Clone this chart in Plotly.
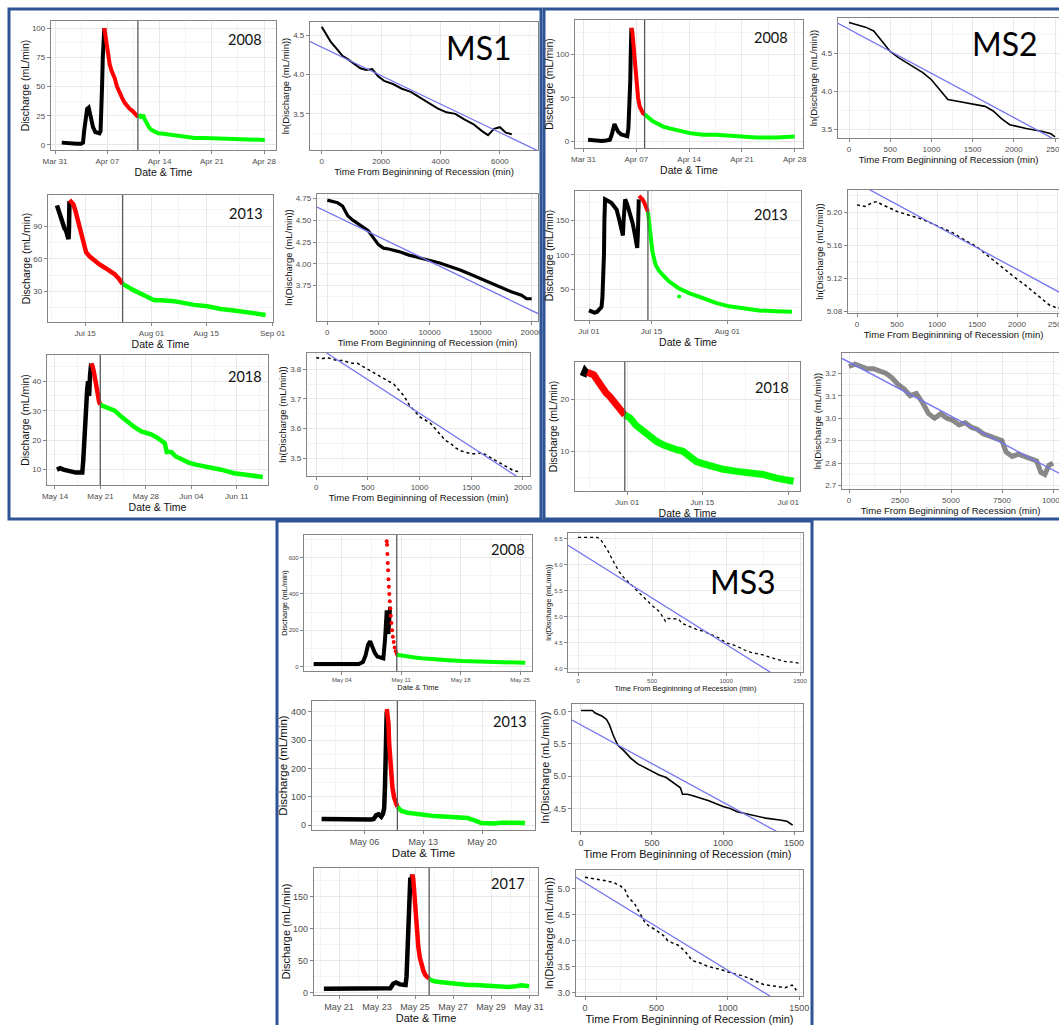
import plotly.graph_objects as go
import pandas as pd

W, H = 1059, 1025
FONT = "Liberation Sans"
LABEL_FONT = "Lato"
BLACK, RED, GREEN = "#000000", "#FF0000", "#00FF00"
FITC = "#7474F2"

# ===================== MS1 =====================
# --- 2008, days after 2008-03-31
ms1_2008_base = "2008-03-31"
ms1_2008_xtick_d = [0, 7, 14, 21, 28]
ms1_2008_xtick_lab = ["Mar 31", "Apr 07", "Apr 14", "Apr 21", "Apr 28"]
ms1_2008_ytick = [0, 25, 50, 75, 100]
ms1_2008_black_d = [0.9, 1.5, 2.2, 2.9, 3.5, 3.75, 3.9, 4.1, 4.3, 4.5, 4.7, 4.9, 5.1, 5.4, 5.7, 5.95, 6.1, 6.2, 6.3, 6.4, 6.5, 6.6]
ms1_2008_black_q = [2, 1.5, 1, 1, 1, 2, 12, 25, 31, 32, 27, 20, 15, 11, 10, 10, 12, 25, 50, 75, 90, 100]
ms1_2008_red_d = [6.6, 6.8, 6.96, 7.15, 7.32, 7.6, 8.0, 8.3, 8.66, 9.0, 9.33, 9.7, 10.0, 10.4, 10.7, 11.1]
ms1_2008_red_q = [100, 90, 83, 75, 69, 63, 57, 50, 44, 40, 36, 33, 31, 29, 27, 24]
ms1_2008_green_d = [11.1, 11.4, 11.6, 11.8, 12.0, 12.2, 12.6, 12.9, 13.4, 13.8, 14.5, 15.1, 16.0, 16.9, 17.8, 18.7, 20.0, 21.4, 23.0, 24.9, 26.5, 28.1]
ms1_2008_green_q = [24, 25, 23, 26, 22, 19, 15, 13, 11, 10, 9.5, 9, 8, 7, 6.5, 6, 6, 5.7, 5.2, 5, 4.6, 4.3]
ms1_2008_split_d = 11.1
ms1_2008_t = [0, 150, 300, 500, 700, 900, 1100, 1300, 1500, 1700, 1900, 2100, 2400, 2700, 3000, 3300, 3600, 3900, 4200, 4500, 4800, 5100, 5400, 5600, 5800, 6000, 6200, 6400]
ms1_2008_ln = [4.61, 4.52, 4.42, 4.33, 4.24, 4.19, 4.14, 4.08, 4.06, 4.07, 3.98, 3.92, 3.88, 3.82, 3.78, 3.71, 3.63, 3.57, 3.52, 3.50, 3.43, 3.37, 3.28, 3.23, 3.31, 3.33, 3.26, 3.24]
ms1_2008_fit_t = [-394, 7283]
ms1_2008_fit_ln = [4.42, 3.03]
ms1_2008_ttick = [0, 2000, 4000, 6000]
ms1_2008_lntick = [3.5, 4.0, 4.5]
ms1_2008_lntick_lab = ["3.5", "4.0", "4.5"]

# --- 2013, days after 2013-07-15
ms1_2013_base = "2013-07-15"
ms1_2013_xtick_d = [0, 17, 31, 48]
ms1_2013_xtick_lab = ["Jul 15", "Aug 01", "Aug 15", "Sep 01"]
ms1_2013_ytick = [30, 60, 90]
ms1_2013_black_d = [-7.2, -6.8, -6.3, -5.8, -5.3, -4.9, -4.5, -4.25, -4.15, -4.1, -4.05, -4.0]
ms1_2013_black_q = [109, 104, 98, 92, 88, 86, 82, 78, 85, 95, 105, 113]
ms1_2013_red_d = [-4.0, -3.5, -3.0, -2.4, -1.9, -1.4, -1.0, -0.4, 0.25, 1.2, 2.4, 3.6, 4.95, 6.2, 7.5, 8.6, 9.6]
ms1_2013_red_q = [114, 112, 110, 103, 96, 89, 83, 74, 66, 62, 58, 55, 52, 49, 46, 42, 37]
ms1_2013_green_d = [9.6, 10.9, 12.5, 14.3, 16, 17.7, 19.4, 21.1, 22.8, 24.5, 27.9, 31.3, 34.7, 38.1, 41.5, 44, 46.2]
ms1_2013_green_q = [37, 34, 31, 28, 25, 22, 22, 21.8, 21, 20, 17.7, 16.5, 14, 12.6, 11, 10, 8.5]
ms1_2013_split_d = 9.6
ms1_2013_t = [0, 1000, 1500, 2000, 2500, 3000, 3500, 4000, 4500, 5000, 5500, 6000, 7000, 8000, 9000, 10000, 11000, 12000, 13000, 14000, 15000, 16000, 17000, 18000, 19000, 19500, 20000]
ms1_2013_ln = [4.73, 4.70, 4.66, 4.55, 4.50, 4.46, 4.42, 4.38, 4.30, 4.22, 4.18, 4.17, 4.14, 4.10, 4.07, 4.04, 4.01, 3.97, 3.93, 3.88, 3.83, 3.78, 3.73, 3.68, 3.64, 3.60, 3.60]
ms1_2013_fit_t = [-1007, 20616]
ms1_2013_fit_ln = [4.65, 3.43]
ms1_2013_ttick = [0, 5000, 10000, 15000, 20000]
ms1_2013_lntick = [3.75, 4.00, 4.25, 4.50, 4.75]
ms1_2013_lntick_lab = ["3.75", "4.00", "4.25", "4.50", "4.75"]

# --- 2018, days after 2018-05-14
ms1_2018_base = "2018-05-14"
ms1_2018_xtick_d = [0, 7, 14, 21, 28]
ms1_2018_xtick_lab = ["May 14", "May 21", "May 28", "Jun 04", "Jun 11"]
ms1_2018_ytick = [10, 20, 30, 40]
ms1_2018_black_d = [0.3, 0.8, 1.3, 2.0, 2.6, 3.2, 3.8, 4.2, 4.35, 4.5, 4.65, 4.8, 4.95, 5.1, 5.25, 5.4, 5.5, 5.58]
ms1_2018_black_q = [10, 10.5, 10, 9.5, 9.2, 9, 9, 9, 13, 20, 26, 32, 37, 40, 35, 42, 44, 46]
ms1_2018_red_d = [5.58, 5.8, 6.0, 6.2, 6.4, 6.6, 6.8, 6.97]
ms1_2018_red_q = [46, 45, 43, 40, 37, 35, 33, 32]
ms1_2018_green_d = [6.97, 7.5, 8.2, 9.2, 10.2, 11.2, 12.2, 13.3, 14.8, 15.6, 16.4, 16.9, 17.2, 17.9, 18.6, 19.4, 20.5, 21.5, 23.5, 25.6, 27.6, 29.7, 32.0]
ms1_2018_green_q = [32, 31.5, 31, 30, 28, 26, 24.5, 23, 22, 21, 20, 19, 16, 16, 14.5, 13.5, 12.5, 11.8, 11, 10, 8.8, 8.2, 7.5]
ms1_2018_split_d = 6.97
ms1_2018_t = [0, 50, 100, 150, 200, 250, 300, 350, 400, 450, 500, 550, 600, 650, 700, 750, 800, 850, 900, 950, 1000, 1050, 1100, 1150, 1200, 1250, 1300, 1350, 1400, 1450, 1500, 1550, 1600, 1650, 1700, 1750, 1800, 1850, 1900, 1950, 1980]
ms1_2018_ln = [3.84, 3.835, 3.84, 3.835, 3.83, 3.83, 3.825, 3.82, 3.82, 3.81, 3.80, 3.79, 3.78, 3.77, 3.76, 3.75, 3.73, 3.71, 3.68, 3.66, 3.64, 3.63, 3.62, 3.60, 3.58, 3.56, 3.55, 3.535, 3.525, 3.52, 3.515, 3.515, 3.52, 3.51, 3.50, 3.49, 3.48, 3.47, 3.46, 3.455, 3.455]
ms1_2018_fit_t = [100, 1980]
ms1_2018_fit_ln = [3.855, 3.43]
ms1_2018_ttick = [0, 500, 1000, 1500, 2000]
ms1_2018_lntick = [3.5, 3.6, 3.7, 3.8]
ms1_2018_lntick_lab = ["3.5", "3.6", "3.7", "3.8"]

# ===================== MS2 =====================
ms2_2008_base = "2008-03-31"
ms2_2008_xtick_d = [0, 7, 14, 21, 28]
ms2_2008_xtick_lab = ["Mar 31", "Apr 07", "Apr 14", "Apr 21", "Apr 28"]
ms2_2008_ytick = [0, 50, 100]
ms2_2008_black_d = [0.6, 1.2, 1.8, 2.4, 3.0, 3.5, 3.75, 3.95, 4.1, 4.3, 4.6, 5.0, 5.4, 5.8, 5.95, 6.05, 6.15, 6.2, 6.25, 6.3, 6.35]
ms2_2008_black_q = [2, 1.5, 0.5, 0.5, 1, 2, 8, 17, 20, 16, 11, 8, 7, 6, 15, 30, 50, 70, 95, 115, 130]
ms2_2008_red_d = [6.35, 6.48, 6.58, 6.66, 6.79, 6.9, 7.0, 7.12, 7.23, 7.45, 7.65, 7.9, 8.1]
ms2_2008_red_q = [130, 125, 115, 106, 88, 75, 65, 57, 50, 40, 35, 32, 31]
ms2_2008_green_d = [8.1, 8.6, 9.2, 9.9, 10.55, 11.4, 12.3, 13.2, 14.1, 15.0, 15.9, 17.6, 19.4, 21.2, 22.9, 25.6, 28.0]
ms2_2008_green_q = [31, 27, 23, 20, 17, 15, 13, 11, 9.5, 8.5, 7.6, 7.6, 6.5, 5.7, 4.6, 4.6, 5.7]
ms2_2008_split_d = 8.1
ms2_2008_t = [0, 100, 200, 300, 400, 500, 600, 700, 800, 900, 1000, 1100, 1200, 1300, 1400, 1500, 1650, 1750, 1850, 1950, 2050, 2150, 2250, 2350, 2450, 2500]
ms2_2008_ln = [4.90, 4.87, 4.84, 4.79, 4.66, 4.52, 4.44, 4.37, 4.31, 4.24, 4.15, 4.02, 3.89, 3.87, 3.85, 3.83, 3.80, 3.74, 3.64, 3.56, 3.53, 3.51, 3.49, 3.47, 3.44, 3.40]
ms2_2008_fit_t = [-133.5, 2548]
ms2_2008_fit_ln = [4.89, 3.335]
ms2_2008_ttick = [0, 500, 1000, 1500, 2000, 2500]
ms2_2008_lntick = [3.5, 4.0, 4.5]
ms2_2008_lntick_lab = ["3.5", "4.0", "4.5"]

ms2_2013_base = "2013-07-01"
ms2_2013_xtick_d = [0, 14, 31]
ms2_2013_xtick_lab = ["Jul 01", "Jul 15", "Aug 01"]
ms2_2013_ytick = [50, 100, 150]
ms2_2013_black_d = [0.0, 0.6, 1.2, 1.8, 2.4, 2.8, 3.0, 3.15, 3.25, 3.35, 3.45, 3.6, 4.2, 5.0, 5.6, 6.2, 6.8, 7.3, 7.6, 7.75, 7.9, 8.1, 8.6, 9.2, 9.8, 10.4, 10.8, 10.95, 11.05, 11.15]
ms2_2013_black_q = [20, 18, 17, 18, 22, 25, 38, 60, 80, 100, 150, 180, 178, 175, 170, 165, 150, 135, 128, 150, 172, 180, 172, 160, 145, 125, 110, 130, 160, 180]
ms2_2013_red_d = [11.2, 11.6, 12.0, 12.4, 12.8, 13.2]
ms2_2013_red_q = [185, 183, 180, 175, 168, 162]
ms2_2013_green_d = [13.2, 13.5, 13.8, 14.2, 14.9, 15.6, 16.4, 17.9, 20.1, 22.4, 25.4, 28.4, 31.4, 34.3, 38.1, 41.8, 45.5]
ms2_2013_green_q = [162, 148, 129, 105, 86, 78, 72, 62, 52, 45, 38, 31, 26, 23, 20, 19, 18]
ms2_2013_out_d = [20.2]
ms2_2013_out_q = [40]
ms2_2013_split_d = 13.2
ms2_2013_t = [0, 100, 200, 250, 300, 400, 500, 600, 700, 800, 900, 1000, 1100, 1200, 1300, 1400, 1500, 1600, 1700, 1800, 1900, 2000, 2100, 2200, 2300, 2400, 2500, 2600]
ms2_2013_ln = [5.209, 5.207, 5.212, 5.213, 5.210, 5.205, 5.201, 5.198, 5.195, 5.192, 5.188, 5.184, 5.179, 5.175, 5.169, 5.164, 5.158, 5.150, 5.142, 5.135, 5.127, 5.119, 5.112, 5.104, 5.096, 5.088, 5.084, 5.085]
ms2_2013_fit_t = [-112.5, 2525]
ms2_2013_fit_ln = [5.2415, 5.1033]
ms2_2013_ttick = [0, 500, 1000, 1500, 2000, 2500]
ms2_2013_lntick = [5.08, 5.12, 5.16, 5.20]
ms2_2013_lntick_lab = ["5.08", "5.12", "5.16", "5.20"]

ms2_2018_base = "2018-06-01"
ms2_2018_xtick_d = [0, 14, 30]
ms2_2018_xtick_lab = ["Jun 01", "Jun 15", "Jul 01"]
ms2_2018_ytick = [10, 20]
ms2_2018_black_d = [-8.2, -7.8, -7.4]
ms2_2018_black_q = [24.5, 25.5, 25]
ms2_2018_red_d = [-7.4, -6.8, -6.2, -5.7, -5.1, -4.5, -3.9, -3.2, -2.6, -2.0, -1.2, -0.43]
ms2_2018_red_q = [25.3, 25.2, 24.8, 24.0, 23.0, 22.2, 21.3, 20.6, 19.8, 19.0, 18.0, 17.0]
ms2_2018_green_d = [-0.43, 0.5, 1.7, 3.0, 4.2, 5.5, 6.8, 8.0, 9.2, 10.4, 11.6, 12.9, 14.1, 15.4, 17.9, 20.4, 22.9, 25.3, 27.8, 30.3, 31.0]
ms2_2018_green_q = [17.0, 16.5, 15.0, 13.9, 12.8, 11.9, 11.2, 10.6, 10.3, 10.0, 9.0, 8.0, 7.6, 7.1, 6.5, 6.1, 5.8, 5.5, 4.8, 4.2, 4.2]
ms2_2018_split_d = -0.43
ms2_2018_t = [0, 300, 600, 900, 1200, 1500, 1800, 2100, 2400, 2700, 3000, 3300, 3600, 3900, 4200, 4500, 4800, 5100, 5400, 5700, 6000, 6300, 6600, 6900, 7200, 7500, 7700, 8000, 8300, 8600, 8900, 9200, 9400, 9600, 9800, 10000]
ms2_2018_ln = [3.23, 3.24, 3.23, 3.22, 3.22, 3.21, 3.20, 3.18, 3.15, 3.13, 3.10, 3.11, 3.07, 3.02, 3.00, 3.02, 3.00, 2.99, 2.97, 2.98, 2.96, 2.95, 2.93, 2.92, 2.91, 2.90, 2.85, 2.83, 2.84, 2.83, 2.82, 2.81, 2.76, 2.75, 2.79, 2.80]
ms2_2018_fit_t = [-343, 10294]
ms2_2018_fit_ln = [3.266, 2.755]
ms2_2018_ttick = [0, 2500, 5000, 7500, 10000]
ms2_2018_lntick = [2.7, 2.8, 2.9, 3.0, 3.1, 3.2]
ms2_2018_lntick_lab = ["2.7", "2.8", "2.9", "3.0", "3.1", "3.2"]

# ===================== MS3 =====================
ms3_2008_base = "2008-05-04"
ms3_2008_xtick_d = [0, 7, 14, 21]
ms3_2008_xtick_lab = ["May 04", "May 11", "May 18", "May 25"]
ms3_2008_ytick = [0, 200, 400, 600]
ms3_2008_black_d = [-3.3, -2.0, -0.5, 1.0, 2.0, 2.5, 2.8, 3.1, 3.35, 3.6, 3.9, 4.2, 4.6, 4.9, 5.1, 5.2, 5.3, 5.4, 5.5, 5.6, 5.7]
ms3_2008_black_q = [15, 14, 13, 13, 14, 25, 60, 120, 140, 110, 75, 55, 50, 45, 150, 250, 310, 220, 180, 260, 330]
ms3_2008_red_d = [5.3, 5.34, 5.38, 5.42, 5.46, 5.5, 5.55, 5.6, 5.66, 5.72, 5.78, 5.85, 5.93, 6.02, 6.12, 6.24, 6.36, 6.48]
ms3_2008_red_q = [690, 670, 620, 570, 530, 480, 440, 400, 360, 320, 280, 240, 200, 165, 135, 105, 85, 70]
ms3_2008_green_d = [6.48, 7.0, 7.85, 8.6, 9.4, 10.2, 11.0, 12.6, 14.2, 15.7, 17.3, 18.8, 20.4, 21.6]
ms3_2008_green_q = [65, 60, 55, 50, 46, 42, 38, 35, 31, 28, 27, 25, 22, 21]
ms3_2008_split_d = 6.48
ms3_2008_t = [0, 60, 130, 150, 170, 200, 240, 280, 320, 360, 400, 450, 500, 550, 590, 600, 650, 680, 700, 750, 800, 850, 900, 950, 1000, 1050, 1100, 1150, 1200, 1250, 1300, 1350, 1400, 1450, 1490]
ms3_2008_ln = [6.53, 6.53, 6.53, 6.50, 6.42, 6.28, 6.06, 5.86, 5.72, 5.62, 5.50, 5.35, 5.22, 5.10, 4.92, 4.97, 4.97, 4.96, 4.88, 4.82, 4.76, 4.72, 4.66, 4.60, 4.50, 4.46, 4.40, 4.33, 4.30, 4.27, 4.22, 4.18, 4.14, 4.13, 4.11]
ms3_2008_fit_t = [-68, 1520]
ms3_2008_fit_ln = [6.38, 3.54]
ms3_2008_ttick = [0, 500, 1000, 1500]
ms3_2008_lntick = [4.0, 4.5, 5.0, 5.5, 6.0, 6.5]
ms3_2008_lntick_lab = ["4.0", "4.5", "5.0", "5.5", "6.0", "6.5"]

ms3_2013_base = "2013-05-06"
ms3_2013_xtick_d = [0, 7, 14]
ms3_2013_xtick_lab = ["May 06", "May 13", "May 20"]
ms3_2013_ytick = [0, 100, 200, 300, 400]
ms3_2013_black_d = [-5.1, -4.0, -3.0, -2.0, -1.0, 0.0, 0.8, 1.1, 1.4, 1.7, 2.0, 2.2, 2.35, 2.45, 2.5, 2.55, 2.6, 2.65]
ms3_2013_black_q = [22, 21, 21, 20, 19, 19, 20, 22, 35, 38, 30, 40, 60, 140, 200, 280, 340, 400]
ms3_2013_red_d = [2.66, 2.75, 2.86, 2.94, 3.05, 3.17, 3.33, 3.53, 3.73, 3.92]
ms3_2013_red_q = [410, 390, 360, 290, 240, 180, 133, 98, 74, 65]
ms3_2013_green_d = [3.92, 4.4, 5.15, 6.0, 6.74, 8.33, 9.9, 11.5, 12.3, 12.8, 13.4, 13.9, 14.7, 15.5, 16.3, 17.1, 18.1, 19.1]
ms3_2013_green_q = [65, 50, 44, 40, 38, 32, 30, 27, 25, 20, 12, 8, 7, 6, 9, 10, 9, 8]
ms3_2013_split_d = 3.92
ms3_2013_t = [0, 40, 80, 100, 150, 180, 200, 230, 260, 300, 350, 400, 450, 500, 550, 600, 650, 700, 715, 750, 800, 900, 1000, 1050, 1100, 1200, 1300, 1400, 1450, 1490]
ms3_2013_ln = [6.02, 6.02, 6.02, 5.98, 5.93, 5.88, 5.80, 5.62, 5.48, 5.40, 5.28, 5.19, 5.13, 5.08, 5.02, 4.98, 4.90, 4.82, 4.72, 4.72, 4.69, 4.62, 4.53, 4.50, 4.45, 4.40, 4.35, 4.32, 4.30, 4.24]
ms3_2013_fit_t = [-63, 1563]
ms3_2013_fit_ln = [5.87, 3.92]
ms3_2013_ttick = [0, 500, 1000, 1500]
ms3_2013_lntick = [4.5, 5.0, 5.5, 6.0]
ms3_2013_lntick_lab = ["4.5", "5.0", "5.5", "6.0"]

ms3_2017_base = "2017-05-21"
ms3_2017_xtick_d = [0, 2, 4, 6, 8, 10]
ms3_2017_xtick_lab = ["May 21", "May 23", "May 25", "May 27", "May 29", "May 31"]
ms3_2017_ytick = [0, 50, 100, 150]
ms3_2017_black_d = [-0.8, 0.0, 1.0, 2.0, 2.7, 2.85, 3.0, 3.2, 3.4, 3.5, 3.55, 3.6, 3.63, 3.66, 3.7, 3.75, 3.8, 3.85]
ms3_2017_black_q = [6, 6, 6.5, 7, 7, 14, 16, 13, 12, 12, 25, 65, 105, 150, 170, 180, 172, 185]
ms3_2017_red_d = [3.85, 3.9, 3.95, 4.0, 4.05, 4.1, 4.17, 4.25, 4.35, 4.45, 4.55, 4.65, 4.74]
ms3_2017_red_q = [185, 178, 160, 135, 115, 95, 72, 55, 42, 33, 27, 24, 22]
ms3_2017_green_d = [4.74, 5.0, 5.4, 5.8, 6.1, 6.5, 6.8, 7.2, 7.5, 7.9, 8.2, 8.6, 8.9, 9.3, 9.6, 10.0]
ms3_2017_green_q = [21, 18, 16.5, 15, 14, 13, 12, 12, 11.5, 11, 10, 9.5, 9, 10, 11.5, 10]
ms3_2017_split_d = 4.74
ms3_2017_t = [0, 50, 100, 150, 200, 250, 280, 300, 350, 380, 400, 420, 450, 500, 550, 580, 620, 650, 700, 750, 800, 850, 900, 950, 1000, 1050, 1100, 1150, 1200, 1250, 1300, 1350, 1400, 1450, 1480]
ms3_2017_ln = [5.22, 5.20, 5.18, 5.15, 5.12, 5.05, 4.98, 4.85, 4.70, 4.55, 4.45, 4.35, 4.28, 4.20, 4.10, 4.00, 3.95, 3.92, 3.80, 3.62, 3.58, 3.52, 3.48, 3.45, 3.40, 3.37, 3.33, 3.28, 3.22, 3.16, 3.14, 3.12, 3.10, 3.15, 3.05]
ms3_2017_fit_t = [-63, 1526]
ms3_2017_fit_ln = [5.22, 2.55]
ms3_2017_ttick = [0, 500, 1000, 1500]
ms3_2017_lntick = [3.0, 3.5, 4.0, 4.5, 5.0]
ms3_2017_lntick_lab = ["3.0", "3.5", "4.0", "4.5", "5.0"]


# ---------------- helpers ----------------
def to_dates(base, days):
    b = pd.Timestamp(base)
    return [b + pd.Timedelta(days=float(v)) for v in days]


def minor_vals(major, lo, hi):
    ext = [2 * major[0] - major[1]] + list(major) + [2 * major[-1] - major[-2]]
    out = []
    for a, b in zip(ext[:-1], ext[1:]):
        m = (a + b) / 2.0
        if lo <= m <= hi:
            out.append(m)
    return out


def qpanel(box, base, xr, yr, xt, xl, yt, black, red, green, split, year, tf, af,
           w=4.5, redmode="lines", extra=None):
    return dict(kind="q", box=box, base=base, xr=xr, yr=yr, xt=xt, xl=xl, yt=yt,
                yl=[str(v) for v in yt], series=[(black, BLACK), (red, RED), (green, GREEN)],
                split=split, year=year, tf=tf, af=af, w=w, redmode=redmode, extra=extra)


def lnpanel(box, xr, yr, xt, yt, yl, t, ln, fit_t, fit_ln, tf, af, lw, dash="solid",
            col=BLACK, cut=False):
    return dict(kind="ln", box=box, xr=xr, yr=yr, xt=xt, xl=[str(v) for v in xt], yt=yt, yl=yl,
                t=t, ln=ln, fit=(fit_t, fit_ln), tf=tf, af=af, lw=lw, dash=dash, col=col, cut=cut)


panels = [
    # MS1 left
    qpanel((51, 21, 276, 150), ms1_2008_base, [-0.54, 29.6], [-4.3, 106], ms1_2008_xtick_d, ms1_2008_xtick_lab, ms1_2008_ytick,
           (ms1_2008_black_d, ms1_2008_black_q), (ms1_2008_red_d, ms1_2008_red_q), (ms1_2008_green_d, ms1_2008_green_q),
           ms1_2008_split_d, ("2008", 245, 39), 8, 10.5, w=4),
    qpanel((48, 195, 273, 322), ms1_2013_base, [-9.5, 48.1], [2, 118.5], ms1_2013_xtick_d, ms1_2013_xtick_lab, ms1_2013_ytick,
           (ms1_2013_black_d, ms1_2013_black_q), (ms1_2013_red_d, ms1_2013_red_q), (ms1_2013_green_d, ms1_2013_green_q),
           ms1_2013_split_d, ("2013", 246, 214), 8, 10.5, w=4.5),
    qpanel((47, 355, 268, 485), ms1_2018_base, [-1.23, 32.8], [4.8, 48.9], ms1_2018_xtick_d, ms1_2018_xtick_lab, ms1_2018_ytick,
           (ms1_2018_black_d, ms1_2018_black_q), (ms1_2018_red_d, ms1_2018_red_q), (ms1_2018_green_d, ms1_2018_green_q),
           ms1_2018_split_d, ("2018", 245, 376), 8, 10.5, w=4.5),
    # MS1 right
    lnpanel((310, 22, 538, 150), [-394, 7283], [3.04, 4.67], ms1_2008_ttick, ms1_2008_lntick, ms1_2008_lntick_lab,
            ms1_2008_t, ms1_2008_ln, ms1_2008_fit_t, ms1_2008_fit_ln, 8, 9.5, 2.0),
    lnpanel((317, 194, 538, 321), [-1007, 20616], [3.345, 4.80], ms1_2013_ttick, ms1_2013_lntick, ms1_2013_lntick_lab,
            ms1_2013_t, ms1_2013_ln, ms1_2013_fit_t, ms1_2013_fit_ln, 8, 9.5, 3.2),
    lnpanel((307, 353, 530, 476), [-90, 2070], [3.44, 3.855], ms1_2018_ttick, ms1_2018_lntick, ms1_2018_lntick_lab,
            ms1_2018_t, ms1_2018_ln, ms1_2018_fit_t, ms1_2018_fit_ln, 8, 9.5, 1.5, dash="dot"),
    # MS2 left
    qpanel((575, 20, 803, 148), ms2_2008_base, [-1.13, 29.1], [-7.5, 139], ms2_2008_xtick_d, ms2_2008_xtick_lab, ms2_2008_ytick,
           (ms2_2008_black_d, ms2_2008_black_q), (ms2_2008_red_d, ms2_2008_red_q), (ms2_2008_green_d, ms2_2008_green_q),
           ms2_2008_split_d, ("2008", 771, 37), 8, 10.5, w=4),
    qpanel((575, 191, 801, 320), ms2_2013_base, [-3.14, 47.5], [6.3, 192], ms2_2013_xtick_d, ms2_2013_xtick_lab, ms2_2013_ytick,
           (ms2_2013_black_d, ms2_2013_black_q), (ms2_2013_red_d, ms2_2013_red_q), (ms2_2013_green_d, ms2_2013_green_q),
           ms2_2013_split_d, ("2013", 771, 215), 8, 10.5, w=4, extra=(ms2_2013_out_d, ms2_2013_out_q, GREEN)),
    qpanel((575, 362, 800, 491), ms2_2018_base, [-9.7, 32.2], [2.3, 27.3], ms2_2018_xtick_d, ms2_2018_xtick_lab, ms2_2018_ytick,
           (ms2_2018_black_d, ms2_2018_black_q), (ms2_2018_red_d, ms2_2018_red_q), (ms2_2018_green_d, ms2_2018_green_q),
           ms2_2018_split_d, ("2018", 772, 387), 8, 10.5, w=7),
    # MS2 right (cut at page edge)
    lnpanel((838, 18, 1059, 138), [-133.5, 2548], [3.385, 4.96], ms2_2008_ttick, ms2_2008_lntick, ms2_2008_lntick_lab,
            ms2_2008_t, ms2_2008_ln, ms2_2008_fit_t, ms2_2008_fit_ln, 8, 9.5, 1.6, cut=True),
    lnpanel((848, 190, 1059, 313), [-112.5, 2525], [5.078, 5.227], ms2_2013_ttick, ms2_2013_lntick, ms2_2013_lntick_lab,
            ms2_2013_t, ms2_2013_ln, ms2_2013_fit_t, ms2_2013_fit_ln, 8, 9.5, 1.5, dash="dot", cut=True),
    lnpanel((842, 353, 1059, 489), [-343, 10294], [2.685, 3.29], ms2_2018_ttick, ms2_2018_lntick, ms2_2018_lntick_lab,
            ms2_2018_t, ms2_2018_ln, ms2_2018_fit_t, ms2_2018_fit_ln, 8, 9.5, 5.0, col="rgba(20,20,20,0.5)", cut=True),
    # MS3 left
    qpanel((304, 535, 532, 671), ms3_2008_base, [-4.44, 22.4], [-24, 724], ms3_2008_xtick_d, ms3_2008_xtick_lab, ms3_2008_ytick,
           (ms3_2008_black_d, ms3_2008_black_q), (ms3_2008_red_d, ms3_2008_red_q), (ms3_2008_green_d, ms3_2008_green_q),
           ms3_2008_split_d, ("2008", 508, 549), 6, 7.5, w=4, redmode="markers"),
    qpanel((312, 701, 535, 830), ms3_2013_base, [-6.24, 20.3], [-17, 438], ms3_2013_xtick_d, ms3_2013_xtick_lab, ms3_2013_ytick,
           (ms3_2013_black_d, ms3_2013_black_q), (ms3_2013_red_d, ms3_2013_red_q), (ms3_2013_green_d, ms3_2013_green_q),
           ms3_2013_split_d, ("2013", 510, 721), 9, 11.5, w=4.5),
    qpanel((314, 868, 538, 995), ms3_2017_base, [-1.32, 10.47], [-3.6, 195], ms3_2017_xtick_d, ms3_2017_xtick_lab, ms3_2017_ytick,
           (ms3_2017_black_d, ms3_2017_black_q), (ms3_2017_red_d, ms3_2017_red_q), (ms3_2017_green_d, ms3_2017_green_q),
           ms3_2017_split_d, ("2017", 508, 883), 9, 11, w=4.5),
    # MS3 right
    lnpanel((568, 533, 803, 672), [-68, 1520], [3.94, 6.615], ms3_2008_ttick, ms3_2008_lntick, ms3_2008_lntick_lab,
            ms3_2008_t, ms3_2008_ln, ms3_2008_fit_t, ms3_2008_fit_ln, 6, 7.5, 1.3, dash="dot"),
    lnpanel((572, 704, 803, 831), [-63, 1563], [4.15, 6.12], ms3_2013_ttick, ms3_2013_lntick, ms3_2013_lntick_lab,
            ms3_2013_t, ms3_2013_ln, ms3_2013_fit_t, ms3_2013_fit_ln, 9, 11, 1.6),
    lnpanel((576, 870, 803, 996), [-63, 1526], [2.94, 5.36], ms3_2017_ttick, ms3_2017_lntick, ms3_2017_lntick_lab,
            ms3_2017_t, ms3_2017_ln, ms3_2017_fit_t, ms3_2017_fit_ln, 9, 11, 1.5, dash="dot"),
]

fig = go.Figure()
layout = {}
shapes = []
annotations = []

BORDER_GRAY = "#858585"
GRID = "#E8E8E8"
GRID_MINOR = "#F4F4F4"

for k, p in enumerate(panels, start=1):
    xa = "x" if k == 1 else f"x{k}"
    ya = "y" if k == 1 else f"y{k}"
    x0, y0, x1, y1 = p["box"]
    dom_x = [x0 / W, min(x1 / W, 1.0)]
    dom_y = [1 - y1 / H, 1 - y0 / H]
    tickfont = dict(family=FONT, size=p["tf"], color="#4D4D4D")
    titlefont = dict(family=FONT, size=p["af"], color="#111111")
    common = dict(showgrid=True, gridcolor=GRID, gridwidth=1, zeroline=False, showline=True,
                  linecolor=BORDER_GRAY, linewidth=1.3, ticks="outside", ticklen=3, tickwidth=1,
                  tickcolor=BORDER_GRAY, tickfont=tickfont, fixedrange=True, automargin=False)
    if p["kind"] == "q":
        base = p["base"]
        xr = to_dates(base, p["xr"])
        xaxis = dict(common, type="date", domain=dom_x, anchor=ya, range=xr, mirror=True,
                     tickmode="array", tickvals=to_dates(base, p["xt"]), ticktext=p["xl"],
                     minor=dict(tickmode="array", tickvals=to_dates(base, minor_vals(p["xt"], p["xr"][0], p["xr"][1])),
                                showgrid=True, gridcolor=GRID_MINOR, gridwidth=1, ticks=""),
                     title=dict(text="Date &amp; Time", font=titlefont, standoff=0))
        yaxis = dict(common, domain=dom_y, anchor=xa, range=p["yr"], mirror=True,
                     tickmode="array", tickvals=p["yt"], ticktext=p["yl"],
                     minor=dict(tickmode="array", tickvals=minor_vals(p["yt"], p["yr"][0], p["yr"][1]),
                                showgrid=True, gridcolor=GRID_MINOR, gridwidth=1, ticks=""),
                     title=dict(text="Discharge (mL/min)", font=titlefont, standoff=0))
        for (d, q), col in p["series"]:
            if col == RED and p["redmode"] == "markers":
                fig.add_trace(go.Scatter(x=to_dates(base, d), y=q, mode="markers", xaxis=xa, yaxis=ya,
                                         marker=dict(color=col, size=4), hoverinfo="skip", showlegend=False))
            else:
                fig.add_trace(go.Scatter(x=to_dates(base, d), y=q, mode="lines", xaxis=xa, yaxis=ya,
                                         line=dict(color=col, width=p["w"]), hoverinfo="skip", showlegend=False))
        if p["extra"] is not None:
            d, q, col = p["extra"]
            fig.add_trace(go.Scatter(x=to_dates(base, d), y=q, mode="markers", xaxis=xa, yaxis=ya,
                                     marker=dict(color=col, size=4), hoverinfo="skip", showlegend=False))
        vx = to_dates(base, [p["split"]])[0]
        shapes.append(dict(type="line", xref=xa, yref=f"{ya} domain", x0=vx, x1=vx, y0=0, y1=1,
                           line=dict(color="#5A5A5A", width=1.3), layer="above"))
        txt, px, py = p["year"]
        annotations.append(dict(text=txt, x=px / W, y=1 - py / H, xref="paper", yref="paper",
                                showarrow=False, xanchor="center", yanchor="middle",
                                font=dict(family=LABEL_FONT, size=14.5, color="#111111")))
    else:
        xaxis = dict(common, domain=dom_x, anchor=ya, range=p["xr"], mirror=True,
                     tickmode="array", tickvals=p["xt"], ticktext=p["xl"],
                     minor=dict(tickmode="array", tickvals=minor_vals(p["xt"], p["xr"][0], p["xr"][1]),
                                showgrid=True, gridcolor=GRID_MINOR, gridwidth=1, ticks=""),
                     title=dict(text="Time From Begininning of Recession (min)", font=titlefont, standoff=0))
        if p["cut"]:
            xaxis["ticklabeloverflow"] = "allow"
        yaxis = dict(common, domain=dom_y, anchor=xa, range=p["yr"], mirror=(not p["cut"]),
                     tickmode="array", tickvals=p["yt"], ticktext=p["yl"],
                     minor=dict(tickmode="array", tickvals=minor_vals(p["yt"], p["yr"][0], p["yr"][1]),
                                showgrid=True, gridcolor=GRID_MINOR, gridwidth=1, ticks=""),
                     title=dict(text="ln(Discharge (mL/min))", font=titlefont, standoff=1))
        fig.add_trace(go.Scatter(x=p["t"], y=p["ln"], mode="lines", xaxis=xa, yaxis=ya,
                                 line=dict(color=p["col"], width=p["lw"], dash=p["dash"]),
                                 hoverinfo="skip", showlegend=False))
        fig.add_trace(go.Scatter(x=p["fit"][0], y=p["fit"][1], mode="lines", xaxis=xa, yaxis=ya,
                                 line=dict(color=FITC, width=1.3), hoverinfo="skip", showlegend=False))
    layout["xaxis" if k == 1 else f"xaxis{k}"] = xaxis
    layout["yaxis" if k == 1 else f"yaxis{k}"] = yaxis

# group frames (blue borders) and site labels
BLUE = "#2F5496"
group_boxes = [(9, 9, 541, 519), (544, 9, 1068, 519), (277, 521, 812, 1032)]
for bx0, by0, bx1, by1 in group_boxes:
    shapes.append(dict(type="rect", xref="paper", yref="paper", x0=bx0 / W, x1=bx1 / W,
                       y0=1 - by1 / H, y1=1 - by0 / H, line=dict(color=BLUE, width=3),
                       fillcolor="rgba(0,0,0,0)", layer="above"))
site_labels = [("MS1", 479, 47), ("MS2", 1005, 43), ("MS3", 743, 581)]
for txt, px, py in site_labels:
    annotations.append(dict(text=txt, x=px / W, y=1 - py / H, xref="paper", yref="paper",
                            showarrow=False, xanchor="center", yanchor="middle",
                            font=dict(family=LABEL_FONT, size=32, color="#000000")))

fig.update_layout(template="none", width=W, height=H, margin=dict(l=0, r=0, t=0, b=0),
                  paper_bgcolor="white", plot_bgcolor="white", showlegend=False,
                  shapes=shapes, annotations=annotations, **layout)
fig.write_html("out.html", config={"displayModeBar": False},
               post_script="document.body.style.margin='0px';document.body.style.overflow='hidden';")
